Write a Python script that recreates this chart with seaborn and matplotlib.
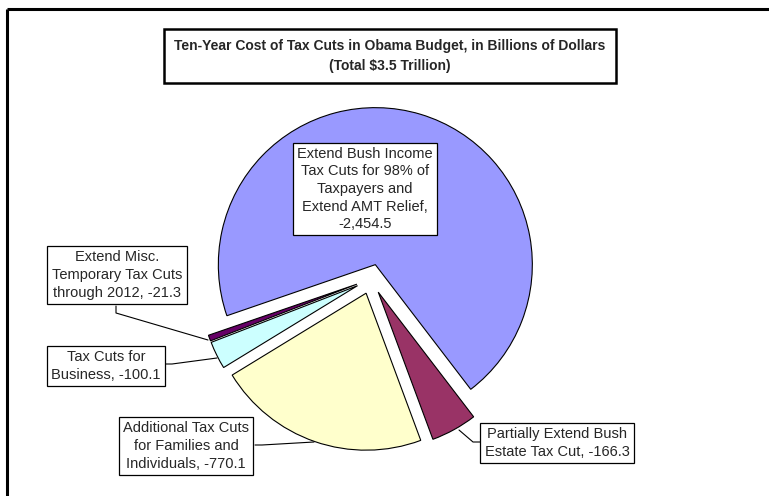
import matplotlib
matplotlib.use("Agg")
import matplotlib.pyplot as plt
import seaborn as sns

sns.set_theme(style="white")
plt.rcParams['font.family'] = ['Liberation Sans', 'DejaVu Sans']

# ---- data ----
categories = [
    "Extend Bush Income\nTax Cuts for 98% of\nTaxpayers and\nExtend AMT Relief,\n-2,454.5",
    "Partially Extend Bush\nEstate Tax Cut, -166.3",
    "Additional Tax Cuts\nfor Families and\nIndividuals, -770.1",
    "Tax Cuts for\nBusiness, -100.1",
    "Extend Misc.\nTemporary Tax Cuts\nthrough 2012, -21.3",
]
values = [2454.5, 166.3, 770.1, 100.1, 21.3]
colors = ["#9999FF", "#993366", "#FFFFCC", "#CCFFFF", "#660066"]
title = "Ten-Year Cost of Tax Cuts in Obama Budget, in Billions of Dollars\n(Total $3.5 Trillion)"

W, H = 769, 496
fig = plt.figure(figsize=(W / 100, H / 100), dpi=100)
ax = fig.add_axes([0, 0, 1, 1])

def Y(y):
    return H - y

radius = 157
ax.pie(values, colors=colors, startangle=199, counterclock=False,
       center=(371, Y(279)), radius=radius,
       explode=[15] * len(values),
       wedgeprops=dict(edgecolor="black", linewidth=0.8), frame=True)
ax.set_xlim(0, W)
ax.set_ylim(0, H)
ax.set_aspect("equal")
ax.axis("off")

box = dict(boxstyle="square,pad=0.3", fc="white", ec="black", lw=0.9)
fs = 10.5

# title
ax.text(390, Y(56), title, ha="center", va="center", fontsize=10, fontweight="bold",
        linespacing=1.55,
        bbox=dict(boxstyle="square,pad=0.75", fc="white", ec="black", lw=1.8))

# labels: blue, maroon, yellow, cyan, purple
label_pos = [(365, 189), (557, 443), (186, 446), (106, 366), (117, 275)]
for text, (lx, ly) in zip(categories, label_pos):
    ax.text(lx, Y(ly), text, ha="center", va="center", fontsize=fs,
            linespacing=1.32, bbox=box)

# leader lines
leaders = [
    [(116, 306), (116, 313), (208, 340)],
    [(161, 364), (172, 364), (217, 358)],
    [(255, 445), (262, 445), (314, 442)],
    [(483, 442), (473, 442), (459, 430)],
]
for pts in leaders:
    ax.plot([p[0] for p in pts], [Y(p[1]) for p in pts], color="black", lw=0.8)

# outer frame (top and left)
ax.plot([7, W], [Y(8.5), Y(8.5)], color="black", lw=2.2, solid_capstyle="butt")
ax.plot([7, 7], [Y(8.5), 0], color="black", lw=2.2, solid_capstyle="butt")

fig.savefig("out.png", dpi=100, facecolor="white")
